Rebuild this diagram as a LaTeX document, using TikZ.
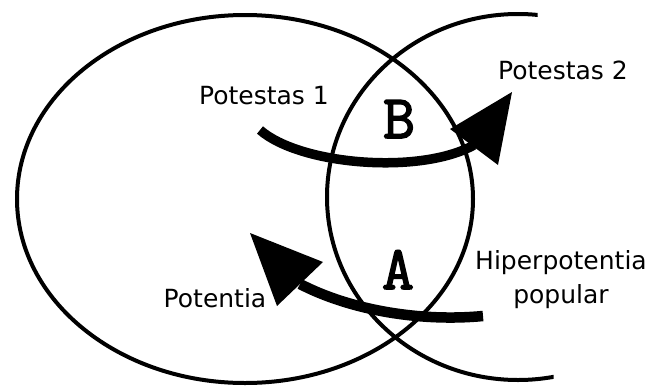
\documentclass[tikz,border=0pt]{standalone}
\usepackage{fontspec}
\setmainfont{DejaVu Sans}
\newfontfamily\letterfont{Latin Modern Mono}[FakeBold=2.5]
\begin{document}
\begin{tikzpicture}[x=1pt,y=-1pt,
  ring/.style={line width=4pt},
  flow/.style={line width=9.5pt},
  head/.style={fill=black},
  lbl/.style={font=\fontsize{25}{34}\selectfont, anchor=base, inner sep=0pt, align=center},
  zone/.style={font=\letterfont\fontsize{62}{62}\selectfont, anchor=base, inner sep=0pt}]
\useasboundingbox (0,0) rectangle (650,386);
\fill[white] (0,0) rectangle (650,386);
% circles
\draw[ring] (245,199) ellipse [x radius=228pt, y radius=184pt];
\begin{scope}
  \clip (0,0) -- (537,0) -- (554,386) -- (0,386) -- cycle;
  \draw[ring] (518,197) ellipse [x radius=191pt, y radius=183pt];
\end{scope}
% labels
\node[lbl] (pot1) at (264,104) {Potestas 1};
\node[lbl] (pot2) at (563,79) {Potestas 2};
\node[lbl] (potentia) at (215,307) {Potentia};
\node[lbl] (hiper) at (561,303) {Hiperpotentia\\popular};
\node[zone] (B) at (399,138) {B};
\node[zone] (A) at (398,289) {A};
% upper arrow
\coordinate (p1s) at (260,130);
\coordinate (p1e) at (474,145);
\coordinate (p1tip) at (512,92);
\coordinate (p1l) at (450,129);
\coordinate (p1r) at (498,165);
\draw[flow] (p1s) .. controls (300,165) and (420,175) .. (p1e);
\fill[head] (p1tip) -- (p1l) -- (p1r) -- cycle;
% lower arrow
\coordinate (p2s) at (483,316);
\coordinate (p2e) at (300,284);
\coordinate (p2tip) at (250,233);
\coordinate (p2l) at (323,262);
\coordinate (p2r) at (277,306);
\draw[flow, line width=10.5pt] (p2s) .. controls (420,322) and (350,310) .. (p2e);
\fill[head] (p2tip) -- (p2l) -- (p2r) -- cycle;
\end{tikzpicture}
\end{document}
